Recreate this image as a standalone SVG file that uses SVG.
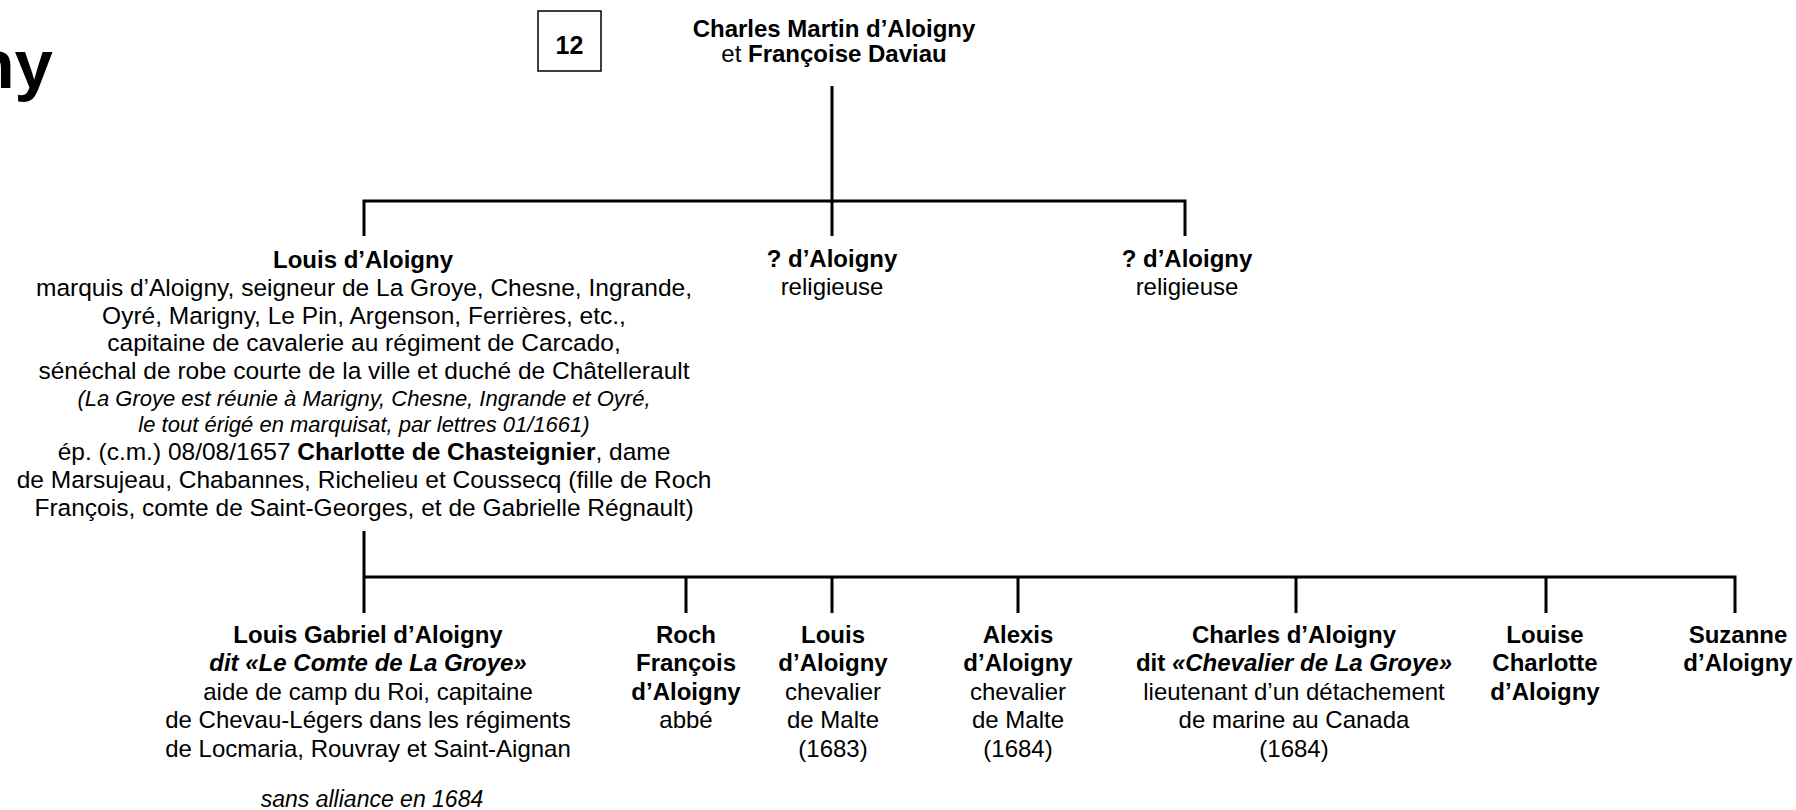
<svg xmlns="http://www.w3.org/2000/svg" width="1796" height="810" viewBox="0 0 1796 810">
<style>
text{font-family:"Liberation Sans",Arial,Helvetica,sans-serif;font-size:24px;fill:#000;text-anchor:middle}
.b{font-weight:bold}
.i{font-style:italic}
.s{font-size:22px;font-style:italic}
.r{font-size:24.5px}
.big{font-size:69px;font-weight:bold;text-anchor:end}
.num{font-size:25px;font-weight:bold}
.c{stroke:#000;stroke-width:3;fill:none}
</style>
<rect width="1796" height="810" fill="#fff"/>
<text class="big" x="53" y="88">ny</text>
<g id="box12">
<rect x="538" y="11" width="63" height="60" fill="#fff" stroke="#000" stroke-width="1.5"/>
<text class="num" x="569.5" y="54">12</text>
</g>
<g id="connectors">
<path class="c" d="M832 86V202M364 236V201H1185V236M832 201V236"/>
<path class="c" d="M364 531V577M364 613V577H1735V613M686 577V613M832 577V613M1018 577V613M1296 577V613M1546 577V613"/>
</g>
<g id="parents">
<text class="b" x="834" y="37">Charles Martin d’Aloigny</text>
<text x="834" y="62">et <tspan class="b">Françoise Daviau</tspan></text>
</g>
<g id="louis">
<text class="b" x="363" y="268">Louis d’Aloigny</text>
<text class="r" x="364" y="296">marquis d’Aloigny, seigneur de La Groye, Chesne, Ingrande,</text>
<text class="r" x="364" y="324">Oyré, Marigny, Le Pin, Argenson, Ferrières, etc.,</text>
<text class="r" x="364" y="351">capitaine de cavalerie au régiment de Carcado,</text>
<text class="r" x="364" y="379">sénéchal de robe courte de la ville et duché de Châtellerault</text>
<text class="s" x="364" y="406">(La Groye est réunie à Marigny, Chesne, Ingrande et Oyré,</text>
<text class="s" x="364" y="432">le tout érigé en marquisat, par lettres 01/1661)</text>
<text class="r" x="364" y="460">ép. (c.m.) 08/08/1657 <tspan class="b">Charlotte de Chasteignier</tspan>, dame</text>
<text class="r" x="364" y="488">de Marsujeau, Chabannes, Richelieu et Coussecq (fille de Roch</text>
<text class="r" x="364" y="516">François, comte de Saint-Georges, et de Gabrielle Régnault)</text>
</g>
<g id="sister1">
<text class="b" x="832" y="267">? d’Aloigny</text>
<text x="832" y="295">religieuse</text>
</g>
<g id="sister2">
<text class="b" x="1187" y="267">? d’Aloigny</text>
<text x="1187" y="295">religieuse</text>
</g>
<g id="louisgabriel">
<text class="b" x="368" y="643">Louis Gabriel d’Aloigny</text>
<text class="b i" x="368" y="671">dit «Le Comte de La Groye»</text>
<text x="368" y="700">aide de camp du Roi, capitaine</text>
<text x="368" y="728">de Chevau-Légers dans les régiments</text>
<text x="368" y="757">de Locmaria, Rouvray et Saint-Aignan</text>
<text class="s" x="372" y="807" style="font-size:23px">sans alliance en 1684</text>
</g>
<g id="roch">
<text class="b" x="686" y="643">Roch</text>
<text class="b" x="686" y="671">François</text>
<text class="b" x="686" y="700">d’Aloigny</text>
<text x="686" y="728">abbé</text>
</g>
<g id="louis2">
<text class="b" x="833" y="643">Louis</text>
<text class="b" x="833" y="671">d’Aloigny</text>
<text x="833" y="700">chevalier</text>
<text x="833" y="728">de Malte</text>
<text x="833" y="757">(1683)</text>
</g>
<g id="alexis">
<text class="b" x="1018" y="643">Alexis</text>
<text class="b" x="1018" y="671">d’Aloigny</text>
<text x="1018" y="700">chevalier</text>
<text x="1018" y="728">de Malte</text>
<text x="1018" y="757">(1684)</text>
</g>
<g id="charles">
<text class="b" x="1294" y="643">Charles d’Aloigny</text>
<text class="b" x="1294" y="671">dit <tspan class="i">«Chevalier de La Groye»</tspan></text>
<text x="1294" y="700">lieutenant d’un détachement</text>
<text x="1294" y="728">de marine au Canada</text>
<text x="1294" y="757">(1684)</text>
</g>
<g id="louise">
<text class="b" x="1545" y="643">Louise</text>
<text class="b" x="1545" y="671">Charlotte</text>
<text class="b" x="1545" y="700">d’Aloigny</text>
</g>
<g id="suzanne">
<text class="b" x="1738" y="643">Suzanne</text>
<text class="b" x="1738" y="671">d’Aloigny</text>
</g>
</svg>
